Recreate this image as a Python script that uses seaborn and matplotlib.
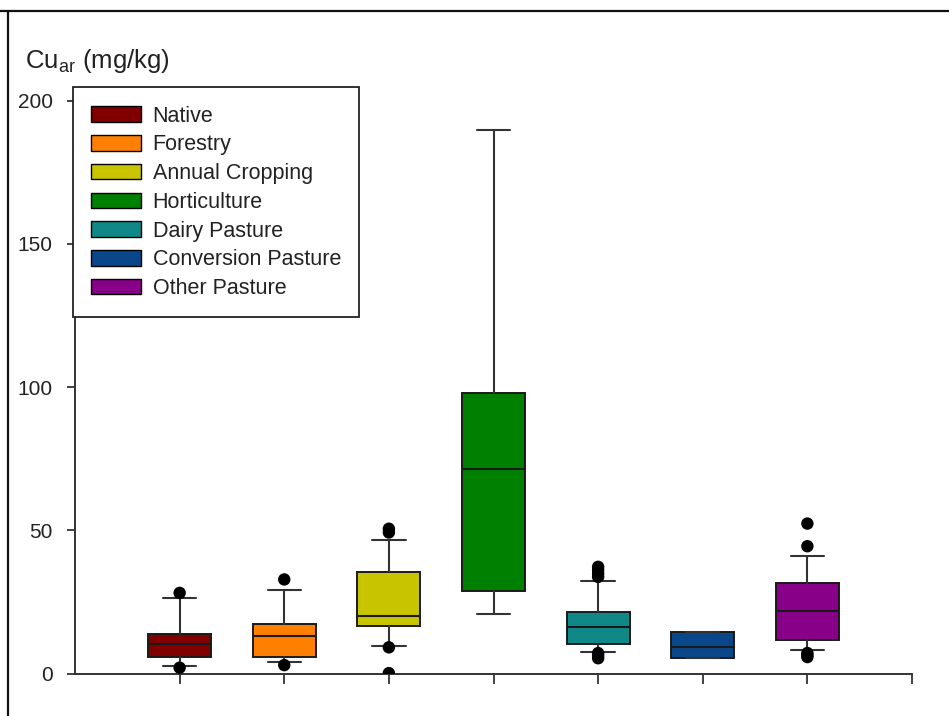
import matplotlib
matplotlib.use("Agg")
import matplotlib.pyplot as plt
from matplotlib.patches import Patch
from matplotlib.lines import Line2D
import seaborn as sns
import pandas as pd

# Land-use groups and box colours
land_use = ["Native", "Forestry", "Annual Cropping", "Horticulture",
            "Dairy Pasture", "Conversion Pasture", "Other Pasture"]
colors = ["#800000", "#FF8000", "#C8C400", "#008000",
          "#108888", "#0A468A", "#880088"]

# Box statistics for Cu_ar (mg/kg)
whisker_low = [2.6, 4.1, 9.8, 21.0, 7.6, 5.6, 8.4]
q1 = [5.9, 5.9, 16.5, 28.8, 10.4, 5.6, 11.8]
median = [10.4, 13.2, 20.2, 71.5, 16.3, 9.2, 21.8]
q3 = [13.9, 17.3, 35.6, 97.9, 21.6, 14.7, 31.5]
whisker_high = [26.4, 29.2, 46.6, 189.9, 32.2, 14.7, 41.1]

# Points outside the whiskers
outlier_group = ["Native", "Native", "Forestry", "Forestry",
                 "Annual Cropping", "Annual Cropping", "Annual Cropping", "Annual Cropping",
                 "Dairy Pasture", "Dairy Pasture", "Dairy Pasture", "Dairy Pasture",
                 "Dairy Pasture", "Dairy Pasture", "Dairy Pasture",
                 "Other Pasture", "Other Pasture", "Other Pasture", "Other Pasture", "Other Pasture"]
outlier_value = [28.2, 2.1, 32.9, 3.0,
                 49.3, 50.6, 9.2, 0.2,
                 33.8, 35.0, 36.2, 37.3,
                 7.2, 6.3, 5.4,
                 52.4, 44.5, 7.2, 6.5, 5.8]

sns.set_theme(style="ticks")
plt.rcParams["font.family"] = ["Liberation Sans", "DejaVu Sans"]
plt.rcParams["mathtext.default"] = "regular"

fig = plt.figure(figsize=(9.49, 7.16), dpi=100)
ax = fig.add_axes([75 / 949, 1 - 673.7 / 716, (912 - 75) / 949, (673.7 - 100.7) / 716])

positions = list(range(1, len(land_use) + 1))
stats = [
    dict(label=lab, whislo=wl, q1=a, med=m, q3=b, whishi=wh, fliers=[])
    for lab, wl, a, m, b, wh in zip(land_use, whisker_low, q1, median, q3, whisker_high)
]
edge = "#1a1a1a"
bp = ax.bxp(stats, positions=positions, widths=0.6, capwidths=0.32,
            patch_artist=True, showfliers=False,
            boxprops=dict(edgecolor=edge, linewidth=1.4),
            medianprops=dict(color=edge, linewidth=1.5),
            whiskerprops=dict(color="#333333", linewidth=1.5),
            capprops=dict(color="#333333", linewidth=1.5))
for box, c in zip(bp["boxes"], colors):
    box.set_facecolor(c)

outliers = pd.DataFrame({"group": outlier_group, "value": outlier_value})
outliers["pos"] = outliers["group"].map({g: i + 1 for i, g in enumerate(land_use)})
sns.scatterplot(data=outliers, x="pos", y="value", color="black", s=80,
                edgecolor="none", zorder=4, ax=ax, legend=False)

ax.set_xlim(0, 8)
ax.set_ylim(0, 200)
ax.set_xticks(range(1, 9))
ax.set_xticklabels([])
ax.set_yticks([0, 50, 100, 150, 200])
ax.set_xlabel("")
ax.set_ylabel("")
ax.tick_params(axis="y", labelsize=15, length=6, width=1.3, pad=10, colors="#333333",
               labelcolor="#222222")
ax.tick_params(axis="x", length=7, width=1.3, colors="#333333")
for side in ["top", "right"]:
    ax.spines[side].set_visible(False)
for side in ["left", "bottom"]:
    ax.spines[side].set_color("#333333")
    ax.spines[side].set_linewidth(1.4)

fig.text(25 / 949, 1 - 68 / 716, r"$\mathregular{Cu_{ar}}$ (mg/kg)", fontsize=18.5,
         color="#222222", va="baseline", ha="left")

handles = [Patch(facecolor=c, edgecolor="black", linewidth=1.0) for c in colors]
leg = fig.legend(handles, land_use, loc="upper left",
                 bbox_to_anchor=(73 / 949, 1 - 87.3 / 716), borderaxespad=0,
                 fontsize=15.5, frameon=True, fancybox=False, framealpha=1,
                 handlelength=2.3, handleheight=0.74, handletextpad=0.55,
                 labelspacing=0.36, borderpad=0.85)
leg.get_frame().set_edgecolor("#222222")
leg.get_frame().set_linewidth(1.3)
for t in leg.get_texts():
    t.set_color("#222222")

# Outer frame lines along the top and left edges
fig.add_artist(Line2D([0, 1], [1 - 11 / 716, 1 - 11 / 716], transform=fig.transFigure,
                      color="#111111", linewidth=1.6))
fig.add_artist(Line2D([8 / 949, 8 / 949], [0, 1 - 11 / 716], transform=fig.transFigure,
                      color="#111111", linewidth=1.6))

fig.savefig("out.png", dpi=100)
